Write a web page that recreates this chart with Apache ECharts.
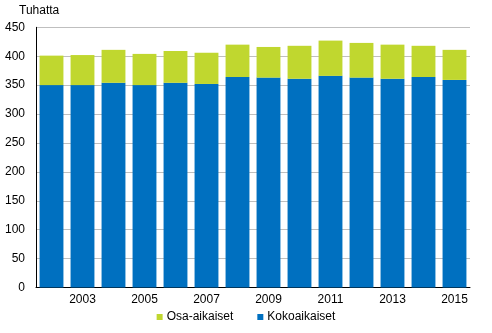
<!DOCTYPE html>
<html><head><meta charset="utf-8">
<script src="https://cdn.jsdelivr.net/npm/echarts@6/dist/echarts.min.js"></script>
<style>html,body{margin:0;padding:0;background:#fff}#c{width:492px;height:333px}</style>
</head><body><div id="c"></div>
<script>
const years = ['2002','2003','2004','2005','2006','2007','2008','2009','2010','2011','2012','2013','2014','2015'];
const kokoaikaiset = [350,350,354,350,354,352,364,363,361,366,363,361,364,359];
const osaaikaiset = [51,52,57,54,55,54,56,53,57,61,60,59,54,52];
const yTicks = [0,50,100,150,200,250,300,350,400,450];

const font = 'Liberation Sans, Arial, sans-serif';
const chart = echarts.init(document.getElementById('c'), null, {renderer:'canvas'});
chart.setOption({
  animation:false,
  textStyle:{fontFamily:font},
  grid:{left:36,right:22,top:27.3,bottom:45.5,containLabel:false},
  title:{text:'Tuhatta',left:14,top:0,textStyle:{fontFamily:font,fontSize:12,fontWeight:'normal',color:'#000'}},
  legend:{
    bottom:5,left:'center',itemWidth:6,itemHeight:6,itemGap:24,icon:'rect',
    data:['Osa-aikaiset','Kokoaikaiset'],
    textStyle:{fontFamily:font,fontSize:12,color:'#000',padding:[0,0,0,-1]}
  },
  xAxis:{
    type:'category',data:years,
    axisLine:{lineStyle:{color:'#000',width:1}},
    axisTick:{show:false},
    axisLabel:{interval:(i)=>i%2===1,color:'#000',fontSize:12,fontFamily:font,margin:6}
  },
  yAxis:{
    type:'value',min:yTicks[0],max:yTicks[yTicks.length-1],interval:50,
    axisLine:{show:true,lineStyle:{color:'#000',width:1}},
    axisTick:{show:false},
    axisLabel:{color:'#000',fontSize:12,fontFamily:font,margin:11},
    splitLine:{lineStyle:{color:'#bfbfbf',width:1}}
  },
  series:[
    {name:'Kokoaikaiset',type:'bar',stack:'t',data:kokoaikaiset,itemStyle:{color:'#0070c0'},barCategoryGap:'23%'},
    {name:'Osa-aikaiset',type:'bar',stack:'t',data:osaaikaiset,itemStyle:{color:'#c0d72f'},barCategoryGap:'23%'}
  ]
});
</script></body></html>
